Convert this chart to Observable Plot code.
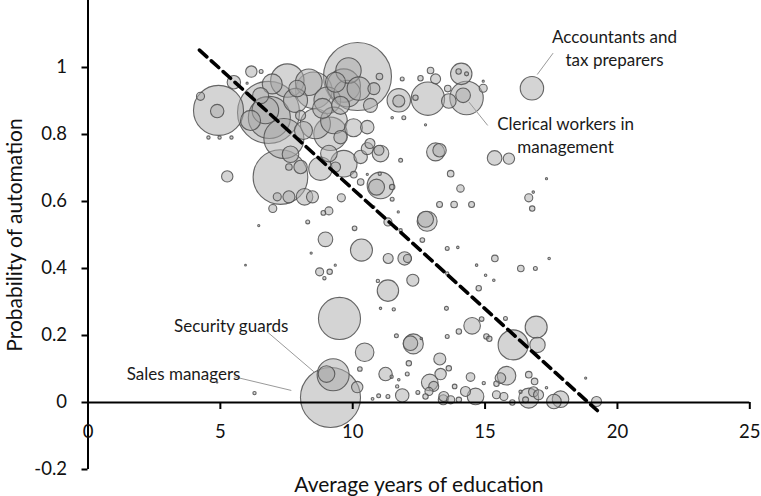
<!DOCTYPE html>
<html>
<head>
<meta charset="utf-8">
<script src="https://cdn.jsdelivr.net/npm/d3@7"></script>
<script src="https://cdn.jsdelivr.net/npm/@observablehq/plot@0.6"></script>
<style>
  html, body { margin: 0; padding: 0; background: #fff; }
  #chart svg { display: block; }
</style>
</head>
<body>
<div id="chart"></div>
<script>
// Average years of education per occupation
const eduYears = [
  4.93,4.88,4.25,4.55,4.97,5.42,5.26,6.17,6.54,5.51,6.01,6.82,6.70,6.85,6.96,7.53,8.34,8.53,9.04,9.66,
  9.35,10.18,9.84,9.79,10.23,10.80,11.01,7.90,8.03,8.59,9.29,9.16,7.40,9.54,10.03,10.55,10.65,10.99,10.55,10.30,
  9.66,8.78,9.35,7.65,8.03,7.59,9.10,7.27,7.15,7.59,8.18,8.48,6.98,6.45,9.57,9.10,8.89,8.30,10.07,8.97,
  10.33,8.75,9.13,8.93,8.43,9.34,5.95,6.29,10.04,10.30,10.55,11.02,11.05,10.90,11.49,11.49,11.33,11.81,11.72,11.81,
  11.05,10.80,11.74,11.74,11.87,12.56,12.94,13.13,14.10,14.00,14.30,14.93,14.93,12.84,14.30,14.17,13.63,13.59,16.77,12.37,
  11.49,11.93,12.75,13.13,13.28,15.36,15.90,13.70,14.07,13.28,13.83,14.49,17.32,16.65,16.78,16.82,12.81,12.75,12.63,13.57,
  13.97,9.50,10.45,10.17,10.27,9.26,9.01,9.16,11.34,11.96,12.07,11.33,12.27,10.95,12.29,12.18,11.65,12.59,13.29,11.24,
  11.47,12.12,12.06,11.74,11.87,11.68,11.33,12.46,12.91,13.06,13.32,12.88,12.75,13.42,13.57,13.54,13.57,11.05,11.55,15.37,
  16.35,16.90,14.68,15.02,15.33,17.42,14.76,14.51,14.87,14.01,15.05,15.16,15.77,16.06,16.93,16.98,15.81,15.58,15.43,14.45,
  13.63,13.85,16.65,16.87,14.26,14.64,15.43,15.71,16.65,16.83,17.02,16.53,17.60,17.85,19.21,13.44,13.70,14.01,18.80,14.95,
  16.34,16.03,17.32,10.98,10.75,4.88,7.84,8.86,9.54,8.14,6.52,6.14,10.67
];
// Probability of automation per occupation
const autoProb = [
  0.872,0.870,0.914,0.791,0.791,0.791,0.675,0.988,0.988,0.956,0.953,0.866,0.872,0.851,0.951,0.961,0.956,0.932,0.902,0.946,
  0.956,0.973,0.991,0.922,0.937,0.937,0.973,0.937,0.857,0.832,0.842,0.802,0.788,0.792,0.820,0.822,0.773,0.753,0.758,0.733,
  0.713,0.698,0.703,0.741,0.703,0.703,0.743,0.673,0.614,0.614,0.614,0.614,0.579,0.528,0.611,0.572,0.566,0.539,0.520,0.487,
  0.455,0.390,0.390,0.371,0.446,0.410,0.410,0.028,0.680,0.658,0.681,0.683,0.648,0.643,0.643,0.607,0.539,0.514,0.569,0.723,
  0.743,0.584,0.902,0.900,0.966,0.968,0.991,0.966,0.981,0.988,0.981,0.938,0.959,0.907,0.909,0.917,0.900,0.937,0.938,0.910,
  0.850,0.850,0.829,0.748,0.753,0.730,0.728,0.683,0.639,0.591,0.591,0.591,0.668,0.611,0.579,0.628,0.541,0.547,0.485,0.460,
  0.463,0.251,0.150,0.046,0.100,0.083,0.085,0.015,0.430,0.430,0.430,0.334,0.365,0.363,0.175,0.177,0.199,0.191,0.130,0.085,
  0.077,0.117,0.085,0.068,0.021,0.048,0.018,0.030,0.060,0.048,0.085,0.033,0.018,0.008,0.197,0.281,0.385,0.281,0.278,0.430,
  0.400,0.400,0.410,0.380,0.365,0.430,0.341,0.229,0.249,0.212,0.197,0.190,0.251,0.172,0.225,0.172,0.080,0.073,0.056,0.076,
  0.102,0.048,0.083,0.063,0.033,0.018,0.023,0.018,0.013,0.032,0.023,0.008,0.003,0.010,0.003,0.018,0.008,0.008,0.073,0.058,
  0.032,0.000,0.044,0.020,0.011,0.060,0.902,0.878,0.887,0.812,0.916,0.842,0.887
];
// Employment (thousands of workers) — bubble size
const employment = [
  1625,117,42,7,7,7,84,84,10,117,3,2500,460,1147,260,725,460,871,460,725,
  260,3000,419,460,356,94,28,179,65,585,460,725,1040,117,210,117,65,65,94,117,
  460,356,65,179,117,28,179,1940,42,94,179,94,42,3,42,42,14,10,14,139,
  315,42,19,7,3,3,2,7,28,28,3,7,460,166,19,10,42,7,3,10,
  179,3,356,94,10,19,28,65,298,19,10,42,3,725,725,139,139,28,356,19,
  4,10,3,210,117,139,84,28,36,23,28,23,3,42,19,4,260,166,14,10,
  4,1147,225,84,14,666,179,2340,65,117,42,298,94,7,260,139,10,4,94,117,
  7,19,10,4,117,7,10,10,179,65,84,42,19,65,10,10,7,4,7,28,
  28,10,4,4,4,4,19,179,14,19,19,19,10,585,315,154,225,73,19,48,
  19,14,28,28,65,179,42,42,260,65,65,23,139,179,65,65,42,19,3,7,
  7,19,4,10,5,1,374,260,210,210,166,260,127
];

// Linear trend line end points
const trendX = [4.21, 19.24];
const trendY = [1.052, -0.024];

// Axis ticks and labels
const xTicks = [0, 5, 10, 15, 20, 25];
const yTicks = [-0.2, 0, 0.2, 0.4, 0.6, 0.8, 1];
const xLabel = "Average years of education";
const yLabel = "Probability of automation";

// Annotations
const annoText = ["Accountants and\ntax preparers", "Clerical workers in\nmanagement", "Security guards", "Sales managers"];
const annoX = [19.89, 18.04, 5.41, 3.61];
const annoY = [1.061, 0.800, 0.231, 0.088];
const leaderX1 = [17.57, 15.10, 6.77, 5.51];
const leaderY1 = [1.043, 0.827, 0.211, 0.077];
const leaderX2 = [16.97, 14.39, 8.53, 7.68];
const leaderY2 = [0.979, 0.897, 0.092, 0.036];

const jobs = eduYears.map((x, i) => ({x, y: autoProb[i], emp: employment[i]}));
const trend = trendX.map((x, i) => ({x, y: trendY[i]}));
const annos = annoText.map((t, i) => ({t, x: annoX[i], y: annoY[i]}));
const leaders = leaderX1.map((x1, i) => ({x1, y1: leaderY1[i], x2: leaderX2[i], y2: leaderY2[i]}));

const FONT = 18.5;
const TITLE = 21;
const INK = "#111";
const chart = Plot.plot({
  width: 761,
  height: 496,
  marginLeft: 87.5,
  marginRight: 11.7,
  marginTop: 0,
  marginBottom: 27,
  x: {domain: [0, 25], axis: null},
  y: {domain: [-0.2, 1.2], axis: null},
  r: {type: "sqrt", domain: [0, 3000], range: [0, 34]},
  style: {fontFamily: "Lato, 'Open Sans', sans-serif", fontSize: FONT + "px", color: INK, background: "#fff"},
  marks: [
    Plot.dot(jobs, {x: "x", y: "y", r: "emp", fill: "#a9a9a9", fillOpacity: 0.5, stroke: "#4d4d4d", strokeOpacity: 0.85, strokeWidth: 1.1}),
    Plot.line(trend, {x: "x", y: "y", stroke: "#000", strokeWidth: 3.6, strokeDasharray: "10,6"}),
    // axes
    Plot.ruleY([0], {stroke: "#000", strokeWidth: 2}),
    Plot.ruleX([0], {stroke: "#000", strokeWidth: 2}),
    Plot.ruleX(xTicks, {x: d => d, y1: 0, y2: 0, insetBottom: -7, stroke: "#000", strokeWidth: 2}),
    Plot.text(xTicks, {x: d => d, y: 0, dy: 30, text: d => String(d), fontSize: FONT, fill: INK}),
    Plot.axisY(yTicks, {tickSize: 6, tickPadding: 15, tickFormat: d => String(+d.toFixed(1)), fontSize: FONT, stroke: "#000", strokeWidth: 2, label: null, fill: INK}),
    Plot.text([xLabel], {frameAnchor: "bottom", dy: 22, fontSize: TITLE, fill: INK}),
    Plot.text([yLabel], {frameAnchor: "left", textAnchor: "middle", rotate: -90, dx: -73, fontSize: TITLE, fill: INK}),
    // annotations
    Plot.link(leaders, {x1: "x1", y1: "y1", x2: "x2", y2: "y2", stroke: "#9a9a9a", strokeWidth: 1}),
    Plot.text(annos, {x: "x", y: "y", text: "t", fontSize: 17, lineHeight: 1.33, fill: "#1a1a1a"})
  ]
});
document.getElementById("chart").appendChild(chart);
</script>
</body>
</html>
